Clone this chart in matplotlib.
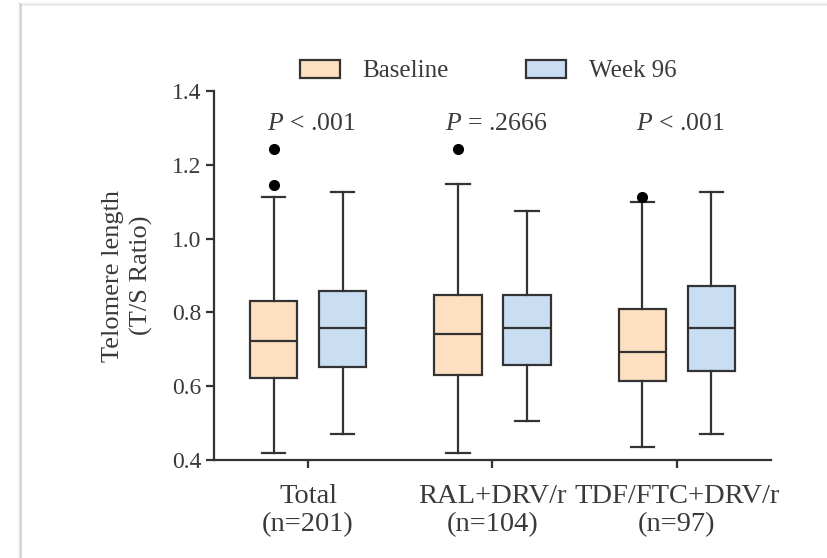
import matplotlib.pyplot as plt
from matplotlib.patches import Patch
from matplotlib.lines import Line2D

# box summaries per group: [baseline, week 96]
groups = ['Total\n(n=201)', 'RAL+DRV/r\n(n=104)', 'TDF/FTC+DRV/r\n(n=97)']
series = ['Baseline', 'Week 96']
p_labels = ['$P$ < .001', '$P$ = .2666', '$P$ < .001']

whislo = [[0.418, 0.470], [0.418, 0.507], [0.436, 0.470]]
q1 = [[0.622, 0.653], [0.631, 0.658], [0.613, 0.642]]
med = [[0.722, 0.759], [0.741, 0.759], [0.693, 0.759]]
q3 = [[0.831, 0.859], [0.848, 0.848], [0.809, 0.872]]
whishi = [[1.114, 1.125], [1.147, 1.075], [1.099, 1.125]]
fliers = [[[1.145, 1.243], []], [[1.243], []], [[1.114], []]]

fills = ['#fde0c2', '#c9def3']
edge = '#333333'
text_col = '#3a3a3a'

plt.rcParams['font.family'] = ['Liberation Serif', 'DejaVu Serif']
plt.rcParams['mathtext.fontset'] = 'custom'
plt.rcParams['mathtext.it'] = 'Liberation Serif:italic'
plt.rcParams['mathtext.rm'] = 'Liberation Serif'

fig = plt.figure(figsize=(8.28, 5.58), dpi=100)
ax = fig.add_axes([214 / 828, 1 - 460 / 558, (771 - 214) / 828, (460 - 91) / 558])

offset = 0.187
for j in range(2):
    stats = []
    for i in range(len(groups)):
        stats.append(dict(whislo=whislo[i][j], q1=q1[i][j], med=med[i][j],
                          q3=q3[i][j], whishi=whishi[i][j], fliers=fliers[i][j]))
    pos = [i + (2 * j - 1) * offset for i in range(len(groups))]
    ax.bxp(stats, positions=pos, widths=0.255, patch_artist=True, showfliers=True,
           boxprops=dict(facecolor=fills[j], edgecolor=edge, linewidth=1.6),
           medianprops=dict(color=edge, linewidth=1.6),
           whiskerprops=dict(color=edge, linewidth=1.6),
           capprops=dict(color=edge, linewidth=1.6),
           capwidths=0.125,
           flierprops=dict(marker='o', markerfacecolor='black', markeredgecolor='black',
                           markersize=7))

for i, lab in enumerate(p_labels):
    ax.text(i + 0.02, 1.31, lab, ha='center', va='center', fontsize=18.5, color=text_col)

ax.set_xlim(-0.51, 2.51)
ax.set_ylim(0.4, 1.4)
ax.set_yticks([0.4, 0.6, 0.8, 1.0, 1.2, 1.4])
ax.set_yticklabels(['0.4', '0.6', '0.8', '1.0', '1.2', '1.4'])
ax.set_xticks(range(len(groups)))
ax.set_xticklabels(groups, fontsize=20.5, color=text_col, linespacing=1.2)
ax.tick_params(axis='y', labelsize=17, labelcolor=text_col, length=6, width=1.6,
               color=edge, pad=3)
ax.tick_params(axis='x', length=6, width=1.6, color=edge, pad=11)
for s in ['top', 'right']:
    ax.spines[s].set_visible(False)
for s in ['left', 'bottom']:
    ax.spines[s].set_linewidth(1.6)
    ax.spines[s].set_color(edge)

ax.set_ylabel('Telomere length\n(T/S Ratio)', fontsize=19, color=text_col, labelpad=14,
              linespacing=1.3)

handles = [Patch(facecolor=fills[k], edgecolor=edge, linewidth=1.6) for k in range(2)]
fig.legend(handles, series, loc='center', bbox_to_anchor=(488 / 828, 1 - 71 / 558),
           ncol=2, frameon=False, fontsize=18, handlelength=1.6, handleheight=0.75,
           columnspacing=3.1, handletextpad=0.9, labelcolor=text_col)

# soft card edge around the figure
for k, a in enumerate([0.4, 0.22, 0.1]):
    fig.add_artist(Line2D([(21 - k) / 828, (21 - k) / 828], [0, 1 - (5 - k) / 558],
                          color='#999999', alpha=a, linewidth=1.2))
    fig.add_artist(Line2D([(21 - k) / 828, 1], [1 - (5 - k) / 558, 1 - (5 - k) / 558],
                          color='#999999', alpha=a * 0.5, linewidth=1.2))

fig.savefig('out.png', dpi=100)
